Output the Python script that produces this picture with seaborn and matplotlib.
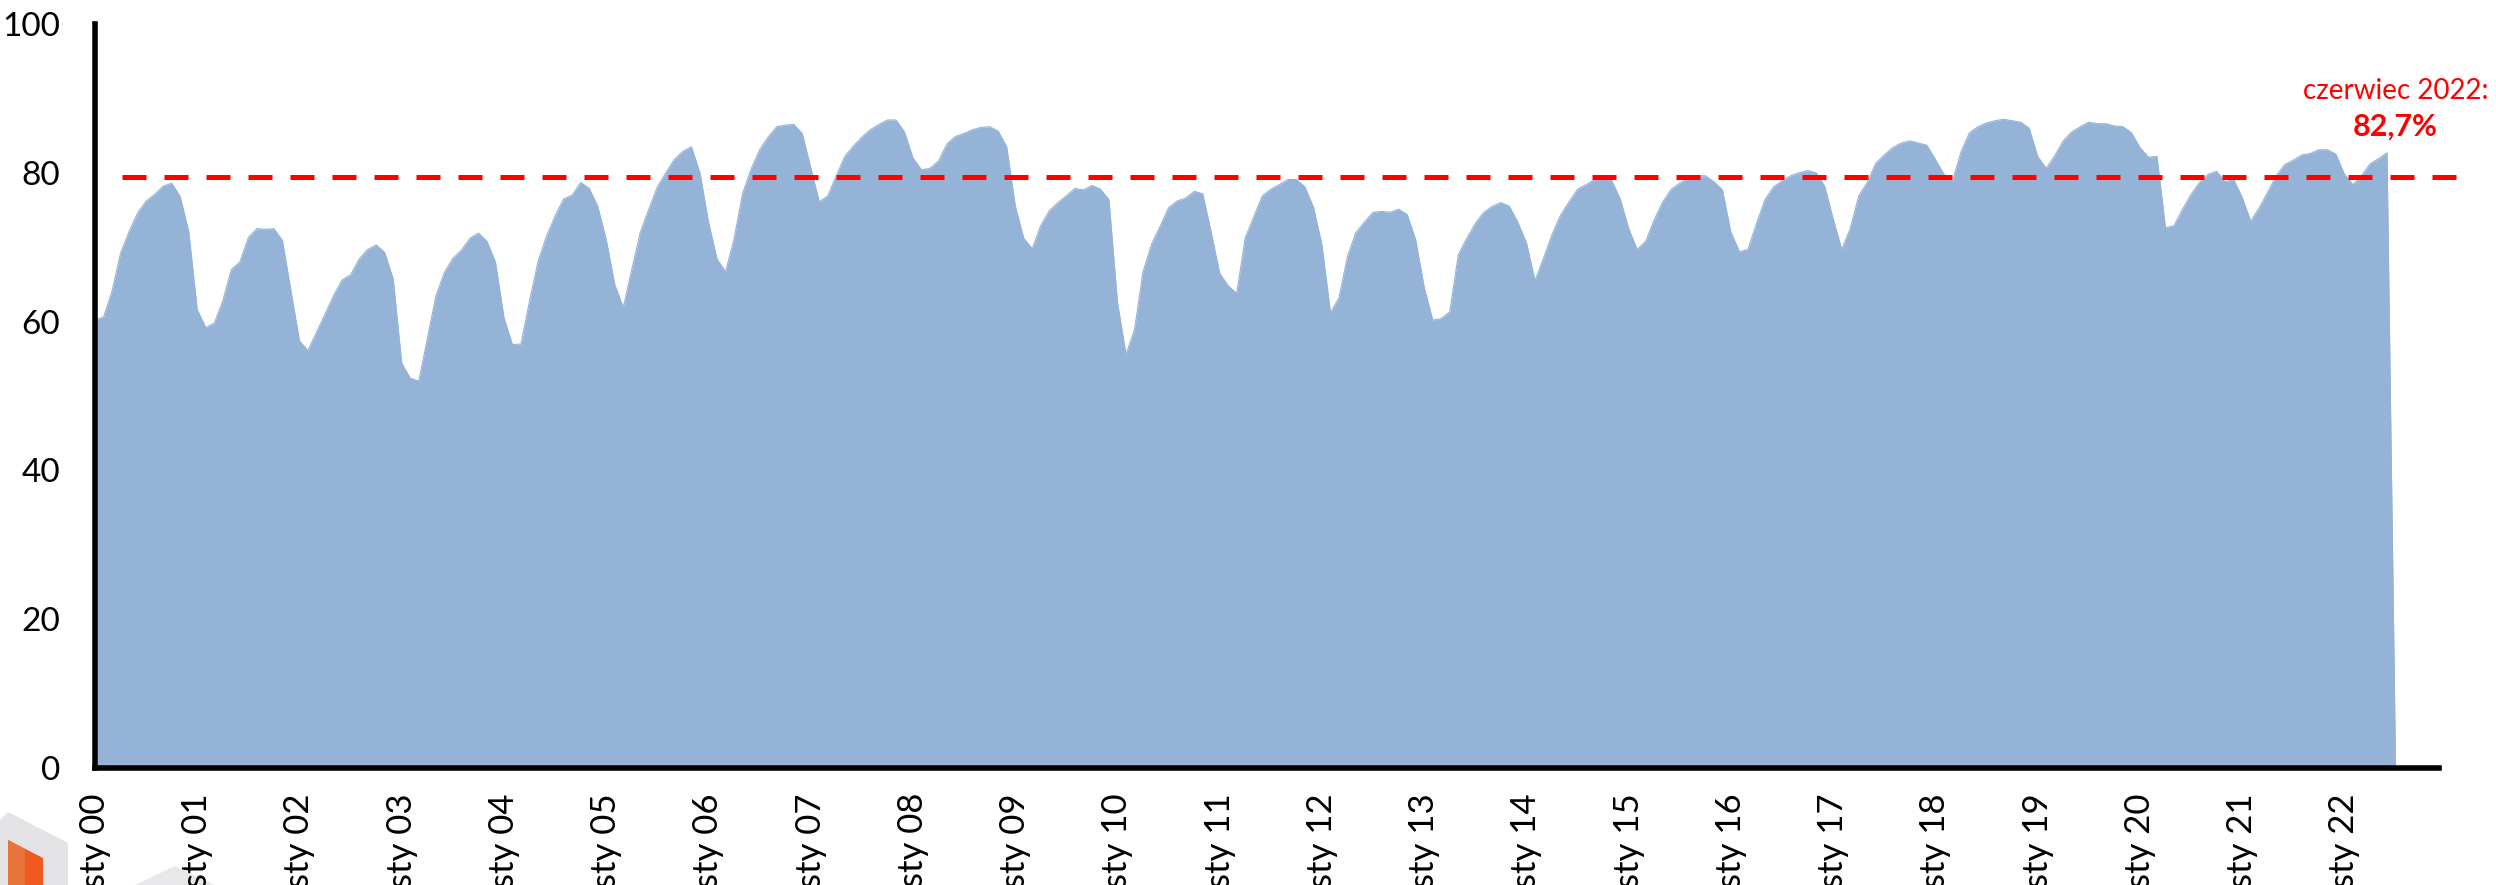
import numpy as np
import pandas as pd
import seaborn as sns
import matplotlib.pyplot as plt
from matplotlib.patches import Polygon

# monthly values, Jan 2000 - Jun 2022; the last 0 is the empty July 2022 cell
values = [
    60.2, 60.6, 64.1, 69.2, 72.1, 74.6, 76.2, 77.1, 78.2, 78.6, 76.8, 72.1,
    61.6, 59.2, 59.8, 62.8, 67.0, 68.0, 71.3, 72.5, 72.4, 72.5, 70.9, 64.1,
    57.4, 56.1, 58.6, 61.0, 63.5, 65.6, 66.3, 68.4, 69.7, 70.3, 69.3, 65.7,
    54.4, 52.4, 52.0, 57.7, 63.4, 66.6, 68.5, 69.6, 71.2, 71.9, 70.8, 68.0,
    60.5, 56.9, 57.0, 62.8, 68.1, 71.5, 74.2, 76.5, 77.0, 78.7, 77.9, 75.5,
    71.0, 65.0, 61.9, 67.0, 72.0, 75.1, 78.1, 80.0, 81.8, 82.9, 83.5, 80.0,
    73.4, 68.4, 66.7, 71.1, 77.2, 80.5, 83.1, 84.8, 86.2, 86.4, 86.5, 85.3,
    80.7, 76.1, 76.9, 79.6, 82.2, 83.6, 84.8, 85.8, 86.5, 87.1, 87.1, 85.5,
    82.0, 80.4, 80.6, 81.6, 83.9, 84.9, 85.3, 85.8, 86.1, 86.2, 85.6, 83.5,
    75.6, 71.2, 69.8, 72.9, 74.9, 76.0, 76.9, 77.9, 77.7, 78.3, 77.8, 76.4,
    62.6, 55.6, 58.9, 66.7, 70.4, 72.8, 75.3, 76.2, 76.6, 77.5, 77.2, 72.0,
    66.5, 64.8, 63.8, 71.3, 74.1, 76.9, 77.8, 78.4, 79.1, 79.1, 78.1, 75.4,
    70.3, 61.2, 63.2, 68.8, 72.0, 73.4, 74.7, 74.8, 74.7, 75.1, 74.4, 71.0,
    64.6, 60.2, 60.4, 61.3, 69.0, 71.2, 73.2, 74.7, 75.5, 76.0, 75.5, 73.3,
    70.6, 65.5, 68.5, 71.7, 74.3, 76.1, 77.8, 78.4, 79.1, 79.6, 79.0, 76.5,
    72.5, 69.7, 70.8, 73.7, 76.1, 77.8, 78.6, 79.3, 79.6, 79.6, 78.8, 77.7,
    72.0, 69.4, 69.7, 73.2, 76.4, 78.1, 78.9, 79.6, 80.0, 80.3, 80.0, 78.2,
    73.8, 69.7, 72.5, 76.9, 78.7, 81.3, 82.4, 83.4, 84.0, 84.3, 84.0, 83.7,
    81.8, 79.8, 78.9, 82.8, 85.4, 86.2, 86.7, 87.0, 87.2, 87.0, 86.8, 86.0,
    82.2, 80.6, 82.3, 84.3, 85.5, 86.2, 86.8, 86.6, 86.6, 86.3, 86.2, 85.4,
    83.4, 82.1, 82.2, 72.6, 72.9, 75.1, 77.1, 78.7, 79.8, 80.2, 78.8, 79.1,
    76.7, 73.5, 75.3, 77.4, 79.6, 81.1, 81.7, 82.4, 82.6, 83.1, 83.1, 82.5,
    79.8, 78.4, 79.6, 81.2, 81.9, 82.7,
    0.0,
]
reference_level = 79.5
year_labels = ['sty %02d' % y for y in range(0, 23)]
y_ticks = [0, 20, 40, 60, 80, 100]
note_line1 = 'czerwiec 2022:'
note_line2 = '82,7%'

df = pd.DataFrame({'month': np.arange(len(values)), 'value': values})

sns.set_style('white')
plt.rcParams['font.family'] = ['Lato', 'DejaVu Sans']

W, H = 2496, 885
fig = plt.figure(figsize=(W / 100, H / 100), dpi=100)
ax = fig.add_axes([95 / W, 1 - 768 / H, (2439 - 95) / W, (768 - 24) / H])

area_col = '#95B3D7'
ax.fill_between(df['month'], 0, df['value'], color=area_col, lw=0)
sns.lineplot(data=df, x='month', y='value', ax=ax, color=area_col, lw=0.8)

# dashed reference line (runs a bit past the axis end, as in the original)
ax.plot([3.2, 277.1], [reference_level, reference_level], color='#FF0000',
        lw=3.6, linestyle=(0, (4.8, 3.6)), clip_on=False, zorder=5)

ax.text(270.0, 91.0, note_line1, color='#FF0000', fontsize=20,
        ha='center', va='center')
ax.text(270.0, 86.2, note_line2, color='#FF0000', fontsize=22,
        fontweight='bold', ha='center', va='center')

ax.set_xlim(0, 275.1)
ax.set_ylim(0, 100)
ax.set_xticks(np.arange(0, 12 * len(year_labels), 12))
ax.set_xticklabels(year_labels, rotation=90)
ax.set_yticks(y_ticks)
ax.set_xlabel('')
ax.set_ylabel('')

for s in ['top', 'right']:
    ax.spines[s].set_visible(False)
for s in ['left', 'bottom']:
    ax.spines[s].set_color('black')
    ax.spines[s].set_linewidth(4)
ax.tick_params(axis='x', direction='in', length=7, width=3.5, pad=18,
               labelsize=25, colors='black')
ax.tick_params(axis='y', direction='in', length=7, width=3.5, pad=25,
               labelsize=24, colors='black')
ax.grid(False)

# piece of the logo peeking in at the bottom-left corner
def fig_poly(pts, color):
    p = Polygon([(x / W, 1 - y / H) for x, y in pts], closed=True,
                transform=fig.transFigure, facecolor=color, edgecolor='none',
                zorder=-1)
    fig.patches.append(p)

fig_poly([(0, 820), (8, 812), (68, 843), (68, 885), (0, 885)], '#E3E3E5')
fig_poly([(8, 840), (43, 858), (43, 885), (8, 885)], '#F05A22')
fig_poly([(8, 840), (25, 849), (25, 885), (8, 885)], '#E8743B')
fig_poly([(135, 885), (175, 866), (215, 885)], '#E8E8EA')

fig.savefig('out.png', dpi=100)
